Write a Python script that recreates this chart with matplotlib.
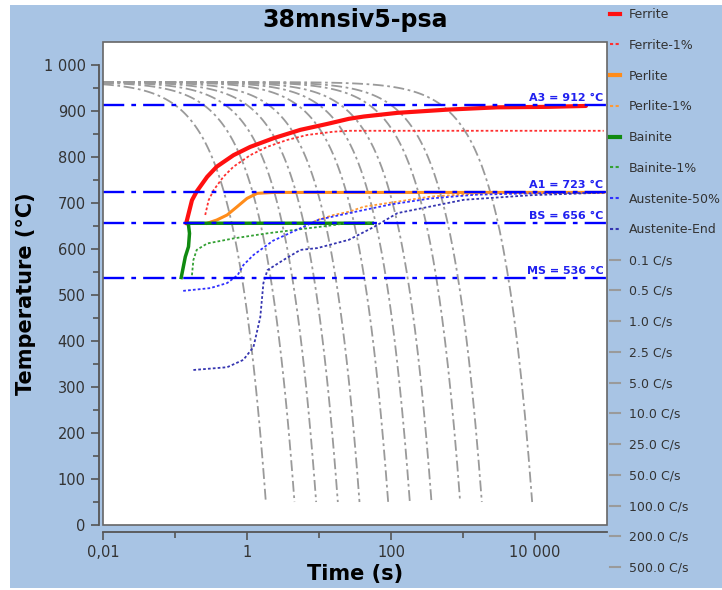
import numpy as np
import matplotlib
matplotlib.use("Agg")
import matplotlib.pyplot as plt
from matplotlib.lines import Line2D
from matplotlib.patches import Rectangle

# transformation curves (time in s, temperature in C)
ferrite_t = [0.143, 0.172, 0.20, 0.28, 0.38, 0.65, 1.11, 2.35, 5.5, 13.1, 26, 42, 123, 610, 3000, 15000, 51000]
ferrite_T = [656, 706, 725, 757, 779, 804, 822, 841, 859, 872, 883, 888, 896, 903, 908, 909, 911]

ferrite1_t = [0.263, 0.293, 0.344, 0.47, 0.65, 1.11, 1.9, 3.6, 6.9, 16, 26, 90000]
ferrite1_T = [674, 706, 728, 757, 779, 804, 822, 837, 848, 855, 857, 857]

perlite_t = [0.28, 0.38, 0.53, 0.73, 1.0, 1.38, 2.35, 90000]
perlite_T = [656, 663, 674, 692, 710, 721, 723, 723]

perlite1_t = [8.4, 9.5, 16, 26, 42, 123, 360, 1800, 9000, 90000]
perlite1_T = [659, 663, 674, 681, 692, 703, 714, 721, 723, 723]

bainite_t = [0.122, 0.139, 0.154, 0.159, 0.154, 0.149, 55]
bainite_T = [538, 583, 605, 634, 652, 656, 656]

bainite1_t = [0.172, 0.18, 0.20, 0.28, 0.65, 1.9, 5.5, 16, 26, 55]
bainite1_T = [543, 576, 598, 612, 623, 634, 643, 652, 657, 657]

aust50_t = [0.13, 0.31, 0.53, 0.74, 0.89, 1.23, 2.3, 5.5, 10, 30, 100, 360, 1500, 9000, 90000]
aust50_T = [509, 515, 526, 543, 565, 587, 618, 645, 664, 680, 697, 710, 718, 721, 722]

austend_t = [0.18, 0.53, 0.89, 1.23, 1.53, 1.69, 1.92, 3.2, 5.5, 9.5, 26, 58, 123, 1030, 8900, 73000]
austend_T = [337, 343, 359, 387, 452, 526, 554, 576, 598, 602, 620, 648, 678, 707, 717, 722]

# critical temperatures
crit_names = ["A3", "A1", "BS", "MS"]
crit_T = [912, 723, 656, 536]

# cooling rates (C/s), start / end temperature of the cooling paths
rates = [0.1, 0.5, 1.0, 2.5, 5.0, 10.0, 25.0, 50.0, 100.0, 200.0, 500.0]
T_start = 963
T_end = 50

fig = plt.figure(figsize=(7.22, 5.9), dpi=100)
fig.patch.set_facecolor("white")
fig.patches.append(Rectangle((10 / 722, 2 / 590), 712 / 722, 583 / 590, transform=fig.transFigure,
                             facecolor="#a8c4e4", edgecolor="none", zorder=-10))

ax = fig.add_axes([103 / 722, 1 - 525 / 590, 504 / 722, 483 / 590])
ax.set_facecolor("white")

gray = "#9a9a9a"
for r in rates:
    t = np.geomspace(0.01, (T_start - T_end) / r, 120)
    ax.plot(t, T_start - r * t, color=gray, lw=1.3, dashes=(6, 2, 1.5, 2), zorder=2)

for name, T in zip(crit_names, crit_T):
    ax.axhline(T, color="#0000ff", lw=1.7, dashes=(9, 3, 2, 3), zorder=5)
    ax.text(1e5 / 1.12, T + 5, f"{name} = {T} °C", color="#2020f0", fontsize=8,
            fontweight="bold", ha="right", va="bottom", zorder=6)

ax.plot(ferrite_t, ferrite_T, color="#ff1010", lw=3, zorder=4, solid_capstyle="round")
ax.plot(ferrite1_t, ferrite1_T, color="#ff3030", lw=1.3, ls=(0, (1.5, 1.2)), zorder=4)
ax.plot(perlite_t, perlite_T, color="#ff8c1a", lw=2.2, zorder=4)
ax.plot(perlite1_t, perlite1_T, color="#ff9933", lw=1.3, ls=(0, (1.5, 1.2)), zorder=4)
ax.plot(bainite_t, bainite_T, color="#108a10", lw=2.5, zorder=4)
ax.plot(bainite1_t, bainite1_T, color="#33a033", lw=1.3, ls=(0, (1.5, 1.2)), zorder=4)
ax.plot(aust50_t, aust50_T, color="#3030ff", lw=1.3, ls=(0, (1.5, 1.2)), zorder=4)
ax.plot(austend_t, austend_T, color="#3535b0", lw=1.3, ls=(0, (1.5, 1.2)), zorder=4)

ax.set_xscale("log")
ax.set_xlim(0.01, 1e5)
ax.set_ylim(0, 1050)

ax.set_xticks([0.01, 1, 100, 10000])
ax.set_xticklabels(["0,01", "1", "100", "10 000"])
ax.set_xticks([0.1, 10, 1000], minor=True)
ax.set_yticks(range(0, 1001, 100))
ax.set_yticklabels([f"{v:,}".replace(",", " ") for v in range(0, 1001, 100)])
ax.set_yticks(range(50, 1000, 100), minor=True)
ax.xaxis.set_minor_formatter(plt.NullFormatter())

ax.tick_params(axis="both", which="major", labelsize=10.5, labelcolor="#333333", color="#555555",
               length=6, width=1.2)
ax.tick_params(axis="both", which="minor", color="#555555", length=4, width=1.2)

for s in ["top", "right"]:
    ax.spines[s].set_visible(False)
ax.spines["left"].set_position(("outward", 3))
ax.spines["bottom"].set_position(("outward", 5))
ax.spines["left"].set_bounds(0, 1000)
for s in ["left", "bottom"]:
    ax.spines[s].set_color("#555555")
    ax.spines[s].set_linewidth(1.3)
ax.add_patch(Rectangle((0, 0), 1, 1, transform=ax.transAxes, fill=False,
                       edgecolor="#666666", lw=1.2, zorder=10, clip_on=False))

ax.set_xlabel("Time (s)", fontsize=15, fontweight="bold", labelpad=3)
ax.set_ylabel("Temperature (°C)", fontsize=15, fontweight="bold", labelpad=4)
ax.yaxis.set_label_coords(-0.133, 0.478)
ax.set_title("38mnsiv5-psa", fontsize=17, fontweight="bold", pad=11)

dot = (0, (1.5, 1.2))
handles = [
    Line2D([], [], color="#ff1010", lw=3),
    Line2D([], [], color="#ff3030", lw=1.5, ls=dot),
    Line2D([], [], color="#ff8c1a", lw=3),
    Line2D([], [], color="#ff9933", lw=1.5, ls=dot),
    Line2D([], [], color="#108a10", lw=3),
    Line2D([], [], color="#33a033", lw=1.5, ls=dot),
    Line2D([], [], color="#3030ff", lw=1.5, ls=dot),
    Line2D([], [], color="#3535b0", lw=1.5, ls=dot),
] + [Line2D([], [], color=gray, lw=1.5) for _ in rates]
labels = ["Ferrite", "Ferrite-1%", "Perlite", "Perlite-1%", "Bainite", "Bainite-1%",
          "Austenite-50%", "Austenite-End"] + [f"{r:.1f} C/s" for r in rates]
fig.legend(handles, labels, loc="upper left", bbox_to_anchor=(0.836, 0.997), frameon=False,
           fontsize=9, handlelength=0.8, handletextpad=0.7, labelspacing=1.42,
           borderaxespad=0.1, labelcolor="#333333")

fig.savefig("out.png", dpi=100, facecolor=fig.get_facecolor())
